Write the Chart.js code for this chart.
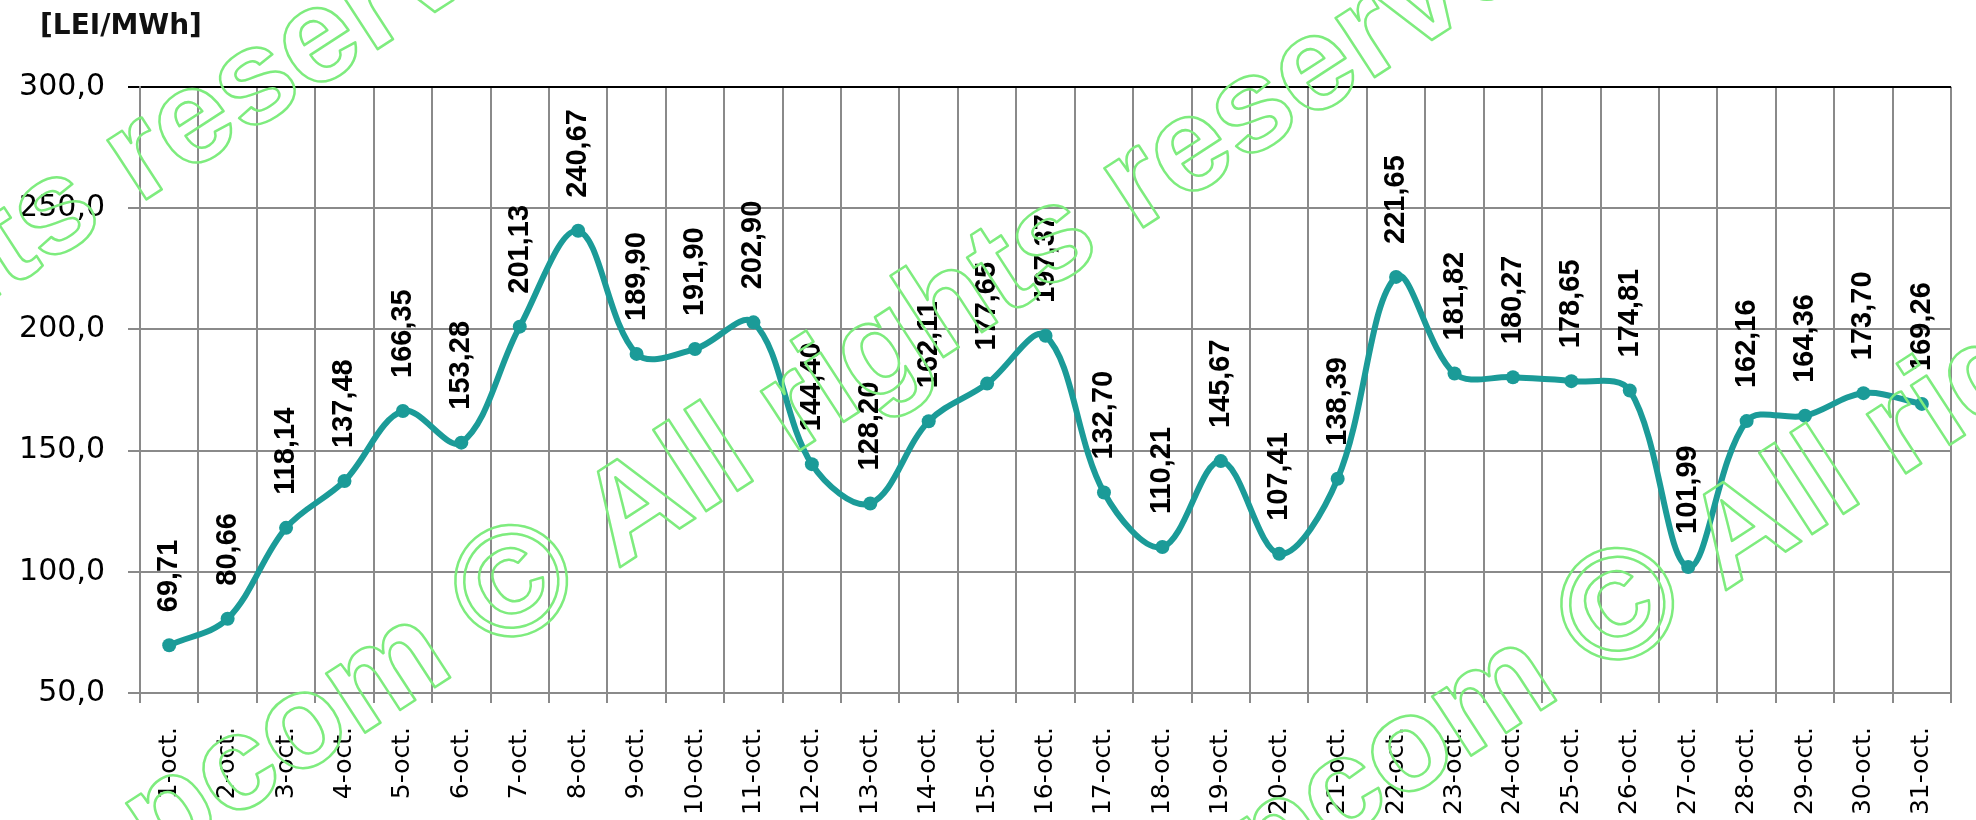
<!DOCTYPE html>
<html>
<head>
<meta charset="utf-8">
<script src="https://cdn.jsdelivr.net/npm/chart.js@4/dist/chart.umd.min.js"></script>
<style>
  html, body { margin: 0; padding: 0; background: #fff; }
  #wrap { width: 1976px; height: 820px; }
</style>
</head>
<body>
<div id="wrap"><canvas id="pzu" width="1976" height="820"></canvas></div>
<script>
// daily prices, october
const days = [
  '1-oct.', '2-oct.', '3-oct.', '4-oct.', '5-oct.', '6-oct.', '7-oct.', '8-oct.',
  '9-oct.', '10-oct.', '11-oct.', '12-oct.', '13-oct.', '14-oct.', '15-oct.', '16-oct.',
  '17-oct.', '18-oct.', '19-oct.', '20-oct.', '21-oct.', '22-oct.', '23-oct.', '24-oct.',
  '25-oct.', '26-oct.', '27-oct.', '28-oct.', '29-oct.', '30-oct.', '31-oct.'
];
const prices = [
  69.71, 80.66, 118.14, 137.48, 166.35, 153.28, 201.13, 240.67,
  189.90, 191.90, 202.90, 144.40, 128.20, 162.11, 177.65, 197.37,
  132.70, 110.21, 145.67, 107.41, 138.39, 221.65, 181.82, 180.27,
  178.65, 174.81, 101.99, 162.16, 164.36, 173.70, 169.26
];
const yTicks = [50, 100, 150, 200, 250, 300];
const unitLabel = '[LEI/MWh]';
const markBefore = 'opcom ';
const markSign = '\u00A9';
const markAfter = ' All rights reserved';

const TEAL = '#1b9b98';
const GRID = '#8a8a8a';
const comma = (v, d) => v.toFixed(d).replace('.', ',');

// value labels, rotated, above each point
const valueLabels = {
  id: 'valueLabels',
  afterDatasetsDraw(chart) {
    const ctx = chart.ctx;
    const meta = chart.getDatasetMeta(0);
    ctx.save();
    ctx.font = 'bold 29px "Liberation Sans", Arial, sans-serif';
    ctx.fillStyle = '#000';
    ctx.textAlign = 'left';
    ctx.textBaseline = 'middle';
    meta.data.forEach((pt, i) => {
      ctx.save();
      ctx.translate(pt.x, pt.y - 33);
      ctx.rotate(-Math.PI / 2);
      ctx.fillText(comma(prices[i], 2), 0, 0);
      ctx.restore();
    });
    ctx.restore();
  }
};

const unitTitle = {
  id: 'unitTitle',
  afterDraw(chart) {
    const ctx = chart.ctx;
    ctx.save();
    ctx.font = 'bold 28px "DejaVu Sans", sans-serif';
    ctx.fillStyle = '#111';
    ctx.textAlign = 'left';
    ctx.textBaseline = 'middle';
    ctx.fillText(unitLabel, 40, 27);
    ctx.restore();
  }
};

// green outlined copyright watermark
const stamp = {
  id: 'stamp',
  afterDraw(chart) {
    const ctx = chart.ctx;
    const textFont = 'bold 134px "Liberation Sans", Arial, sans-serif';
    const signFont = 'bold 158px "Liberation Sans", Arial, sans-serif';
    ctx.save();
    ctx.strokeStyle = '#7eec7e';
    ctx.lineWidth = 2.5;
    ctx.lineJoin = 'round';
    ctx.textBaseline = 'middle';
    ctx.font = signFont;
    const half = ctx.measureText(markSign).width / 2;
    const anchors = [[-480, 562], [517, 590], [1623, 613]];
    anchors.forEach(([ax, ay]) => {
      ctx.save();
      ctx.translate(ax, ay);
      ctx.rotate(-33 * Math.PI / 180);
      ctx.font = signFont;
      ctx.textAlign = 'center';
      ctx.strokeText(markSign, 0, 0);
      ctx.font = textFont;
      ctx.textAlign = 'right';
      ctx.strokeText(markBefore, -half, 0);
      ctx.textAlign = 'left';
      ctx.strokeText(markAfter, half, 0);
      ctx.restore();
    });
    ctx.restore();
  }
};

new Chart(document.getElementById('pzu'), {
  type: 'line',
  data: {
    labels: days,
    datasets: [{
      data: prices,
      borderColor: TEAL,
      backgroundColor: TEAL,
      borderWidth: 6,
      pointRadius: 7,
      pointBackgroundColor: TEAL,
      pointBorderWidth: 0,
      tension: 0.35,
      fill: false,
    }],
  },
  options: {
    responsive: false,
    animation: false,
    layout: { padding: { top: 87, right: 7, left: 0, bottom: 0 } },
    plugins: { legend: { display: false }, tooltip: { enabled: false } },
    scales: {
      x: {
        offset: true,
        grid: {
          offset: true,
          lineWidth: 2,
          tickLength: 10,
          color: c => (c.index === days.length ? 'rgba(0,0,0,0)' : GRID),
        },
        border: { color: GRID, width: 2 },
        ticks: {
          autoSkip: false,
          minRotation: 90,
          maxRotation: 90,
          padding: 24,
          color: '#000',
          font: { family: '"DejaVu Sans", sans-serif', size: 25 },
        },
        afterFit(s) { s.height = 127; },
      },
      y: {
        min: yTicks[0],
        max: yTicks[yTicks.length - 1],
        afterBuildTicks(s) { s.ticks = yTicks.map(v => ({ value: v })); },
        grid: {
          lineWidth: 2,
          tickLength: 12,
          color: c => (c.tick && c.tick.value === 300 ? '#000' : GRID),
        },
        border: { color: GRID, width: 2 },
        ticks: {
          padding: 23,
          color: '#000',
          font: { family: '"DejaVu Sans", sans-serif', size: 30 },
          callback: v => comma(v, 1),
        },
        afterFit(s) { s.width = 140; },
      },
    },
  },
  plugins: [valueLabels, unitTitle, stamp],
});
</script>
</body>
</html>
